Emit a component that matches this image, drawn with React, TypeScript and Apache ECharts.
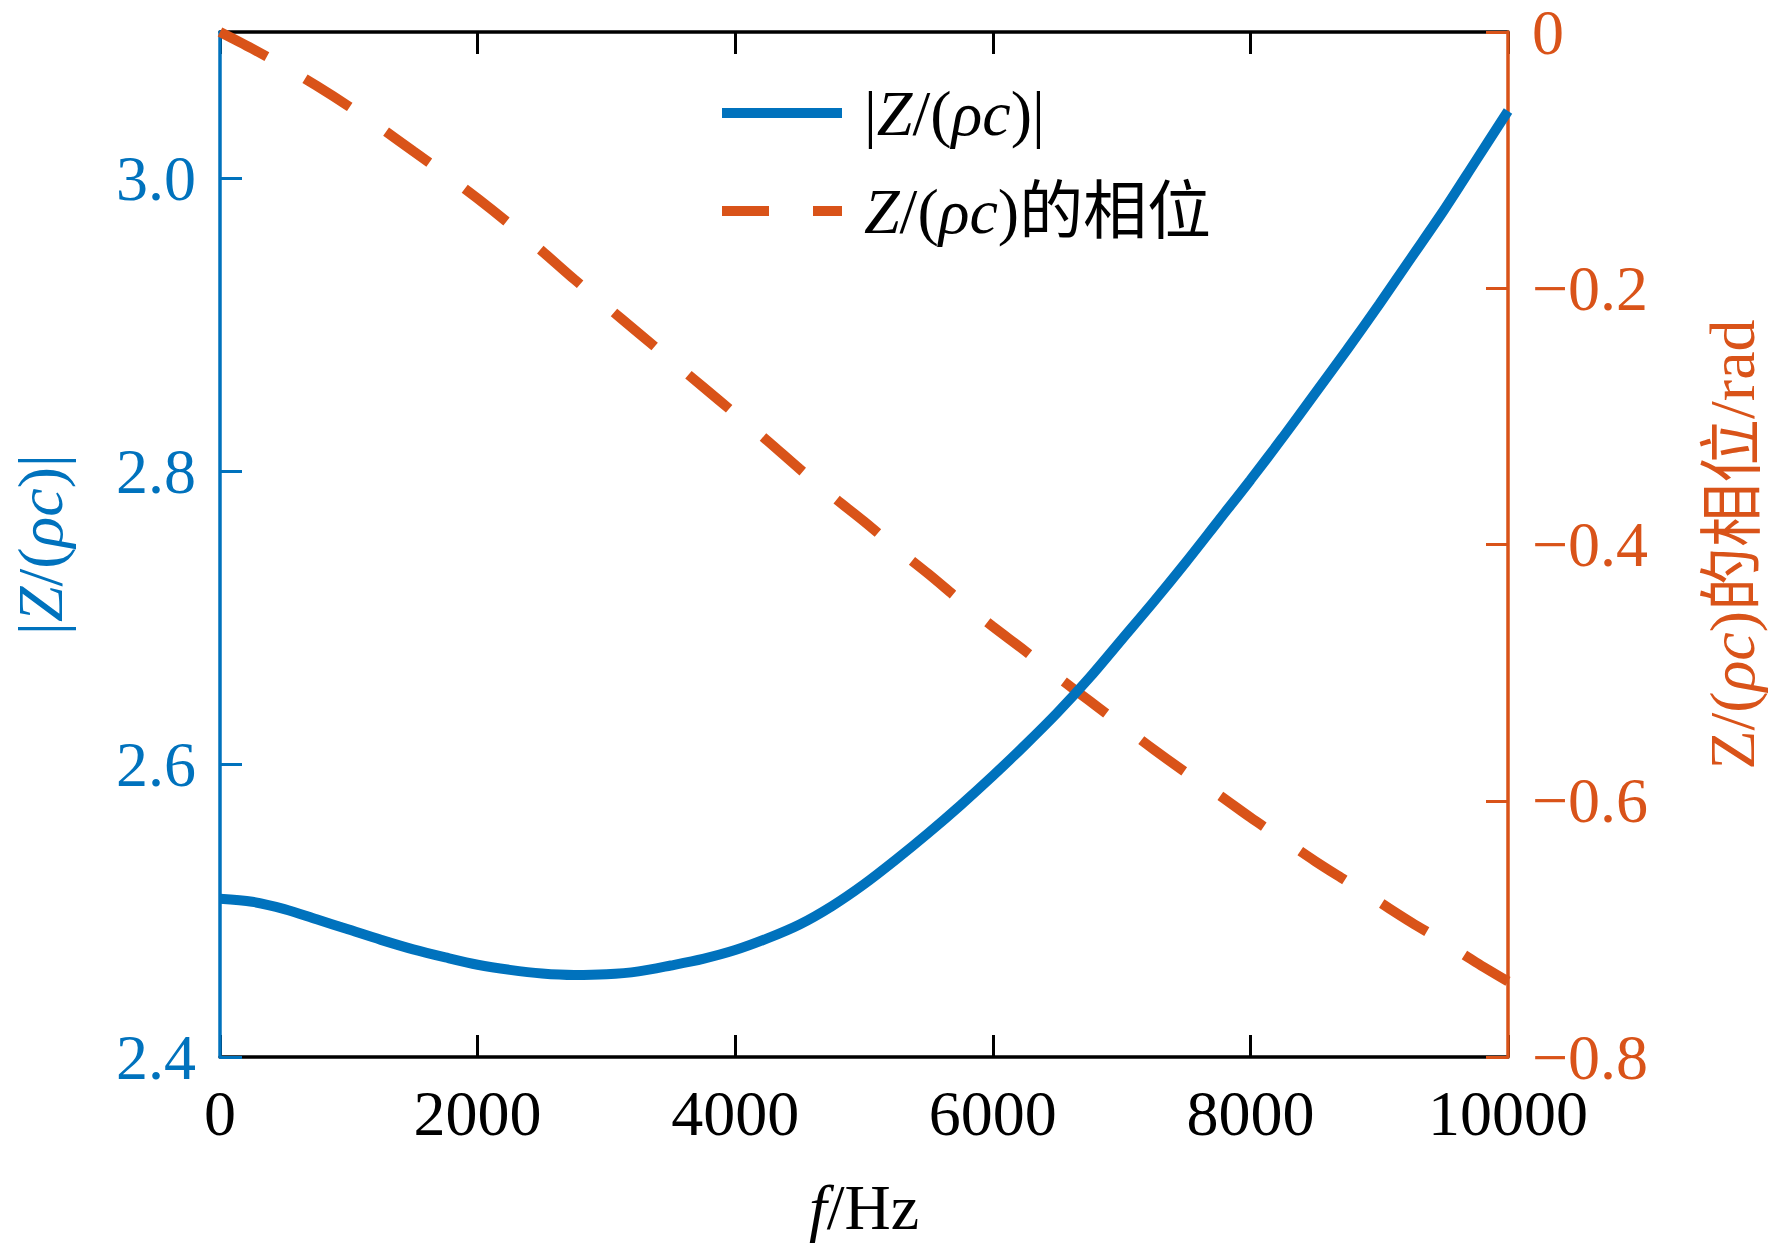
import React, { useEffect, useRef } from "react";
import * as echarts from "echarts";

const FREQ = [
  0, 250, 500, 750, 1000, 1250, 1500, 1750, 2000, 2250, 2500, 2750, 3000, 3250, 3500, 3750, 4000, 4250, 4500, 4750, 5000,
  5250, 5500, 5750, 6000, 6250, 6500, 6750, 7000, 7250, 7500, 7750, 8000, 8250, 8500, 8750, 9000, 9250, 9500, 9750, 10000,
];
const MAGNITUDE = [
  2.508, 2.506, 2.501, 2.494, 2.487, 2.48, 2.4735, 2.468, 2.463, 2.4595, 2.457, 2.456, 2.4565, 2.4585, 2.4625, 2.467, 2.473,
  2.481, 2.4905, 2.503, 2.518, 2.535, 2.553, 2.572, 2.592, 2.613, 2.635, 2.659, 2.685, 2.711, 2.738, 2.766, 2.794, 2.823,
  2.853, 2.883, 2.914, 2.946, 2.978, 3.012, 3.046,
];
const PHASE = [
  0, -0.013, -0.027, -0.042, -0.058, -0.075, -0.093, -0.111, -0.13, -0.15, -0.171, -0.193, -0.214, -0.235, -0.256, -0.277,
  -0.298, -0.319, -0.341, -0.362, -0.382, -0.403, -0.423, -0.444, -0.464, -0.483, -0.503, -0.522, -0.541, -0.56, -0.578,
  -0.595, -0.613, -0.63, -0.647, -0.663, -0.679, -0.695, -0.71, -0.726, -0.741,
];

const SERIES_MAG = "|Z/(ρc)|";
const SERIES_PHASE = "Z/(ρc)的相位";

const BLUE = "#0072BD";
const ORANGE = "#D95319";
const FONT = "'Liberation Serif', 'Times New Roman', 'Noto Sans CJK SC', serif";
const FS = 64;

function richSet(color: string) {
  return {
    n: { fontFamily: FONT, fontSize: FS, color, lineHeight: FS },
    i: { fontFamily: FONT, fontSize: FS, color, fontStyle: "italic", lineHeight: FS },
    s: { width: 17, fontSize: FS, lineHeight: FS },
  };
}

export default function App() {
  const ref = useRef<HTMLDivElement>(null);
  useEffect(() => {
    if (!ref.current) return;
    const chart = echarts.init(ref.current, null, { renderer: "svg" });
    const magData = FREQ.map((f, k) => [f, MAGNITUDE[k]]);
    const phaseData = FREQ.map((f, k) => [f, PHASE[k]]);
    const tick = (color: string) => ({ show: true, inside: true, length: 22, lineStyle: { color, width: 3 } });
    const line = (color: string) => ({ show: true, onZero: false, lineStyle: { color, width: 3.5 } });
    const option: any = {
      animation: false,
      backgroundColor: "#ffffff",
      grid: { left: 220, right: 260, top: 32, bottom: 192, containLabel: false },
      legend: {
        orient: "vertical",
        left: 712,
        top: 76,
        itemWidth: 120,
        itemHeight: 64,
        itemGap: 34,
        itemStyle: { opacity: 0 },
        data: [
          { name: SERIES_MAG, itemStyle: { opacity: 0 }, lineStyle: { width: 10, type: "solid", color: BLUE } },
          { name: SERIES_PHASE, itemStyle: { opacity: 0 }, lineStyle: { width: 10, type: [47, 44], cap: "butt", color: ORANGE } },
        ],
        formatter: (name: string) =>
          name === SERIES_MAG
            ? "{s|}{n||}{i|Z}{n|/(}{i|ρc}{n|)|}"
            : "{s|}{i|Z}{n|/(}{i|ρc}{n|)的相位}",
        textStyle: { fontFamily: FONT, fontSize: FS, color: "#000", lineHeight: FS, rich: richSet("#000") },
      },
      xAxis: [
        {
          type: "value",
          position: "bottom",
          min: 0,
          max: 10000,
          interval: 2000,
          z: 2,
          name: "{i|f}{n|/Hz}",
          nameLocation: "middle",
          nameGap: 118,
          nameTextStyle: { fontFamily: FONT, fontSize: FS, color: "#000", lineHeight: FS, rich: richSet("#000") },
          axisLine: line("#000"),
          axisTick: tick("#000"),
          axisLabel: {
            show: true,
            margin: 32,
            lineHeight: 48,
            color: "#000",
            fontFamily: FONT,
            fontSize: FS,
            formatter: (v: number) => String(Math.round(v)),
          },
          splitLine: { show: false },
        },
        {
          type: "value",
          position: "top",
          min: 0,
          max: 10000,
          interval: 2000,
          z: 2,
          axisLine: line("#000"),
          axisTick: tick("#000"),
          axisLabel: { show: false },
          splitLine: { show: false },
        },
      ],
      yAxis: [
        {
          type: "value",
          position: "left",
          min: 2.4,
          max: 3.1,
          interval: 0.2,
          z: 3,
          name: "{n||}{i|Z}{n|/(}{i|ρc}{n|)|}",
          nameLocation: "middle",
          nameRotate: 90,
          nameGap: 148,
          nameTextStyle: { fontFamily: FONT, fontSize: FS, color: BLUE, lineHeight: FS, rich: richSet(BLUE) },
          axisLine: line(BLUE),
          axisTick: tick(BLUE),
          axisLabel: {
            show: true,
            margin: 24,
            lineHeight: 48,
            color: BLUE,
            fontFamily: FONT,
            fontSize: FS,
            showMaxLabel: false,
            formatter: (v: number) => (v > 3.05 ? "" : v.toFixed(1)),
          },
          splitLine: { show: false },
        },
        {
          type: "value",
          position: "right",
          min: -0.8,
          max: 0,
          interval: 0.2,
          z: 3,
          name: "{n|Z/(}{i|ρc}{n|)的相位/rad}",
          nameLocation: "middle",
          nameRotate: 90,
          nameGap: 192,
          nameTextStyle: { fontFamily: FONT, fontSize: FS, color: ORANGE, lineHeight: FS, rich: richSet(ORANGE) },
          axisLine: line(ORANGE),
          axisTick: tick(ORANGE),
          axisLabel: {
            show: true,
            margin: 24,
            lineHeight: 48,
            color: ORANGE,
            fontFamily: FONT,
            fontSize: FS,
            formatter: (v: number) => (Math.abs(v) < 1e-9 ? "0" : "\u2212" + Math.abs(v).toFixed(1)),
          },
          splitLine: { show: false },
        },
      ],
      series: [
        {
          name: SERIES_MAG,
          type: "line",
          xAxisIndex: 0,
          yAxisIndex: 0,
          data: magData,
          smooth: 0.3,
          symbol: "none",
          showSymbol: false,
          z: 5,
          lineStyle: { color: BLUE, width: 10 },
          itemStyle: { color: BLUE },
        },
        {
          name: SERIES_PHASE,
          type: "line",
          xAxisIndex: 0,
          yAxisIndex: 1,
          data: phaseData,
          smooth: 0.3,
          symbol: "none",
          showSymbol: false,
          z: 4,
          lineStyle: { color: ORANGE, width: 10, type: [53, 44], cap: "butt" },
          itemStyle: { color: ORANGE },
        },
      ],
    };
    chart.setOption(option);
    return () => chart.dispose();
  }, []);
  return (
    <div
      ref={ref}
      style={{ position: "absolute", left: 0, top: 0, width: 1772, height: 1249, background: "#fff" }}
    />
  );
}
